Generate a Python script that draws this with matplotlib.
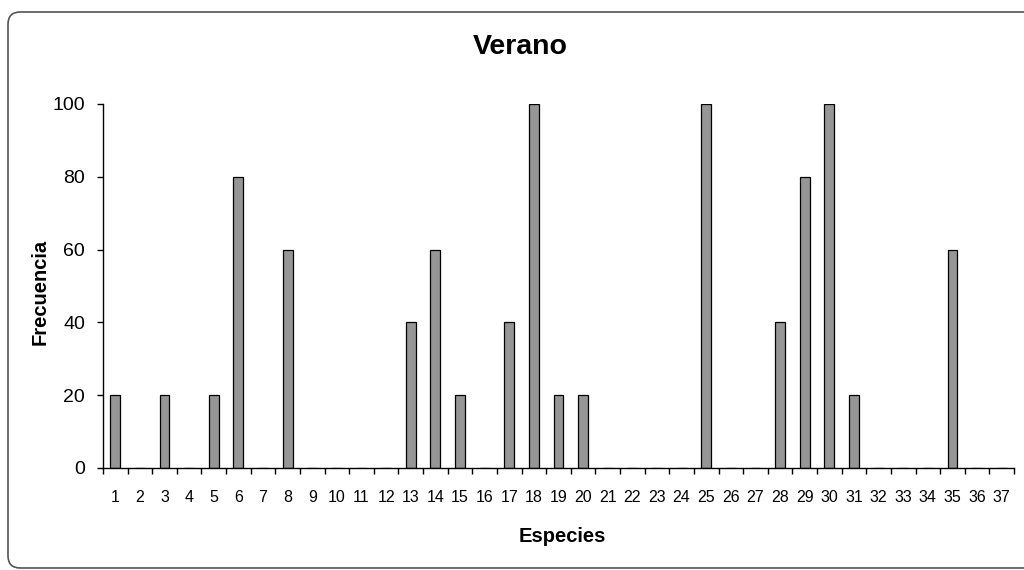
import matplotlib
matplotlib.use("Agg")
import matplotlib.pyplot as plt
from matplotlib.patches import FancyBboxPatch
import numpy as np

plt.rcParams['font.family'] = ['Liberation Sans', 'DejaVu Sans']

especies = [str(i) for i in range(1, 38)]
frecuencia = [20, 0, 20, 0, 20, 80, 0, 60, 0, 0, 0, 0, 40, 60, 20, 0, 40, 100,
              20, 20, 0, 0, 0, 0, 100, 0, 0, 40, 80, 100, 20, 0, 0, 0, 60, 0, 0]
y_ticks = [0, 20, 40, 60, 80, 100]

W, H = 1024, 570
fig = plt.figure(figsize=(W / 100, H / 100), dpi=100)

# rounded chart-area frame (runs off the right edge)
frame = FancyBboxPatch((8 / W, 2 / H), (1040 - 8) / W, (558 - 2) / H,
                       boxstyle="round,pad=0,rounding_size=0.012",
                       transform=fig.transFigure, fill=False,
                       edgecolor='#555555', linewidth=1.2, mutation_aspect=W / H)
fig.patches.append(frame)

left, right, top, bottom = 103, 1014, 104, 468
ax = fig.add_axes([left / W, 1 - bottom / H, (right - left) / W, (bottom - top) / H])

x = np.arange(len(especies))
ax.bar(x, frecuencia, width=0.4, color='#969696', edgecolor='black', linewidth=0.9)

ax.set_xlim(-0.5, len(especies) - 0.5)
ax.set_ylim(0, 100)
ax.set_yticks(y_ticks)
ax.set_yticklabels([str(v) for v in y_ticks], fontsize=14)

# category labels centred, tick marks on category boundaries
ax.set_xticks(x)
ax.set_xticklabels(especies, fontsize=11.5)
ax.tick_params(axis='x', which='major', length=0, pad=15.5)
ax.set_xticks(np.arange(-0.5, len(especies) + 0.5, 1), minor=True)
ax.tick_params(axis='x', which='minor', length=4.5, width=1, direction='out')
ax.tick_params(axis='y', length=4.5, width=1, direction='out', pad=8.5)

for s in ['top', 'right']:
    ax.spines[s].set_visible(False)
for s in ['left', 'bottom']:
    ax.spines[s].set_linewidth(1)

fig.text(520 / W, 1 - 47 / H, 'Verano', fontsize=20.5, fontweight='bold',
         ha='center', va='center')
fig.text(40 / W, 1 - 292 / H, 'Frecuencia', fontsize=14.5, fontweight='bold',
         rotation=90, ha='center', va='center')
fig.text(562 / W, 1 - 536 / H, 'Especies', fontsize=14.5, fontweight='bold',
         ha='center', va='center')

fig.savefig('out.png', dpi=100)
